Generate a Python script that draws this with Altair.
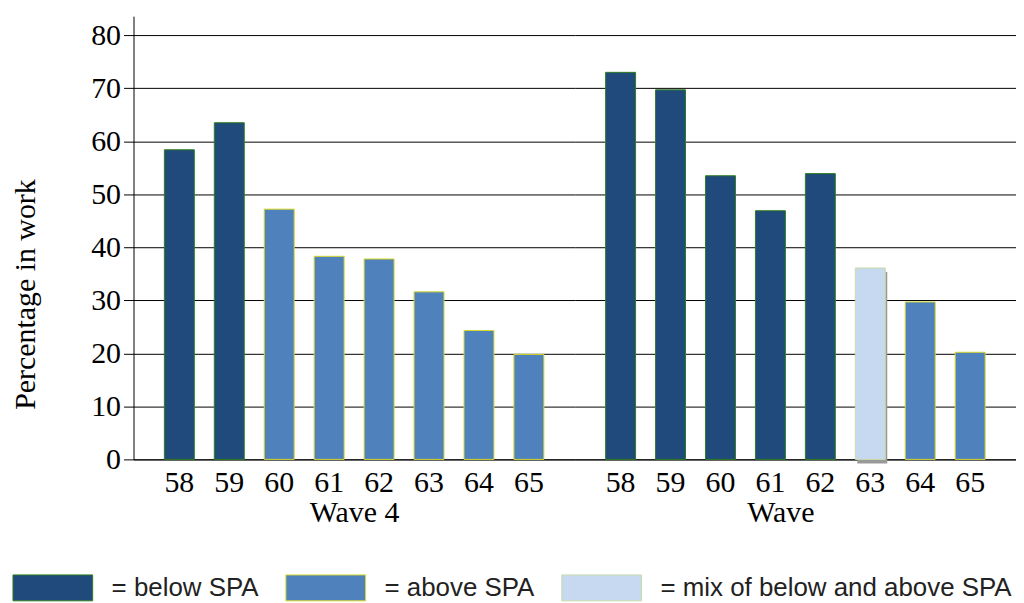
import altair as alt
import pandas as pd

ages = ["58", "59", "60", "61", "62", "63", "64", "65"]
wave4_values = [58.4, 63.5, 47.2, 38.3, 37.8, 31.6, 24.3, 19.8]
wave_values = [73.0, 69.7, 53.5, 46.9, 53.9, 36.1, 29.7, 20.2]
wave4_types = ["below SPA", "below SPA", "above SPA", "above SPA", "above SPA", "above SPA", "above SPA", "above SPA"]
wave_types = ["below SPA", "below SPA", "below SPA", "below SPA", "below SPA",
              "mix of below and above SPA", "above SPA", "above SPA"]
waves = ["Wave 4", "Wave"]
categories = ["below SPA", "above SPA", "mix of below and above SPA"]
fill_colors = ["#204a7b", "#4f81bd", "#c6d9f0"]
stroke_colors = ["#2e7d1f", "#d8d82a", "#c9dba8"]

rows = []
for w, vals, types in [(waves[0], wave4_values, wave4_types), (waves[1], wave_values, wave_types)]:
    for a, v, t in zip(ages, vals, types):
        rows.append({"wave": w, "age": a, "value": v, "type": t})
df = pd.DataFrame(rows)

serif = "Liberation Serif"
PANEL_W = 443
PANEL_H = 445

symbol_path = "M-1,-1.3L7,-1.3L7,1.3L-1,1.3Z"
legend = alt.Legend(orient="none", legendX=-124, legendY=561, direction="horizontal", title=None,
                    symbolType=symbol_path, symbolSize=400, symbolStrokeWidth=1,
                    labelFont="Liberation Sans", labelFontSize=26, labelColor="#222222",
                    labelOffset=76, columnPadding=24, labelLimit=0, padding=0,
                    labelExpr="'= ' + datum.label")


def panel(wave_name, show_y, title_shift):
    x_enc = alt.X(
        "age:O",
        sort=ages,
        scale=alt.Scale(paddingInner=0.4, paddingOuter=0.618),
        axis=alt.Axis(title=wave_name, ticks=False, labelAngle=0, labelFont=serif, labelFontSize=30,
                      labelColor="black", labelPadding=8, domainColor="black", domainWidth=1,
                      titleFont=serif, titleFontSize=30, titleFontWeight="normal", titleColor="black",
                      titlePadding=0, titleX=PANEL_W / 2 + title_shift),
    )
    if show_y:
        y_axis = alt.Axis(values=[0, 10, 20, 30, 40, 50, 60, 70, 80], title="Percentage in work",
                          grid=True, gridColor="black", gridWidth=1, gridOpacity=1,
                          domainColor="black", tickColor="black", tickSize=10,
                          labelFont=serif, labelFontSize=30, labelColor="black", labelPadding=3,
                          titleFont=serif, titleFontSize=30, titleFontWeight="normal", titleColor="black",
                          titlePadding=50, titleY=279)
    else:
        y_axis = alt.Axis(values=[0, 10, 20, 30, 40, 50, 60, 70, 80], title=None, labels=False,
                          ticks=False, domain=False, grid=True, gridColor="black", gridWidth=1,
                          gridOpacity=1)
    y_enc = alt.Y("value:Q", scale=alt.Scale(domain=[0, 83.6], nice=False), axis=y_axis)

    base = alt.Chart(df).transform_filter(alt.datum.wave == wave_name)
    shadow = base.mark_bar(color="#999999", xOffset=2, yOffset=4, y2Offset=4).encode(
        x=x_enc, y=y_enc
    ).transform_filter(alt.datum.type == "mix of below and above SPA")
    bars = base.mark_bar(strokeWidth=1, opacity=1).encode(
        x=x_enc,
        y=y_enc,
        color=alt.Color("type:N", scale=alt.Scale(domain=categories, range=fill_colors), legend=legend),
        stroke=alt.Stroke("type:N", scale=alt.Scale(domain=categories, range=stroke_colors), legend=legend),
    )
    return alt.layer(shadow, bars).properties(width=PANEL_W, height=PANEL_H)


chart = alt.hconcat(
    panel(waves[0], True, 0),
    panel(waves[1], False, -15),
    spacing=0,
).properties(
    padding={"left": 2, "top": 7, "right": 0, "bottom": 0}
).configure_view(stroke=None)

chart.save("out.html", embed_options={"renderer": "svg", "actions": False})
